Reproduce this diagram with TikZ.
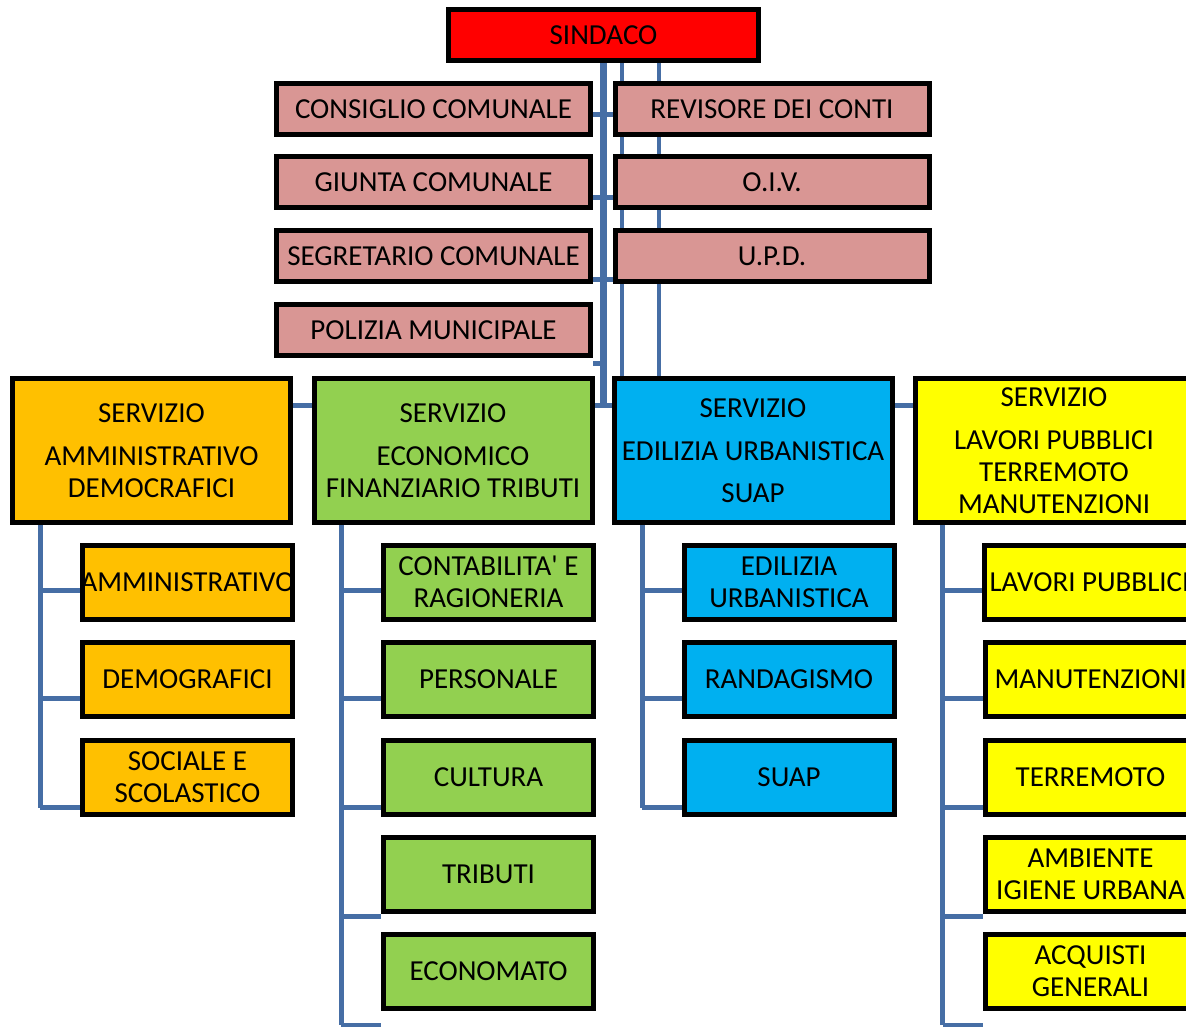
\documentclass[tikz,border=0pt]{standalone}
\usepackage{fontspec}
\setmainfont{Carlito}
\usetikzlibrary{backgrounds}
\definecolor{conn}{RGB}{70,110,165}
\definecolor{redf}{HTML}{FF0000}
\definecolor{pinkf}{HTML}{D99694}
\definecolor{orangef}{HTML}{FFC000}
\definecolor{greenf}{HTML}{92D050}
\definecolor{bluef}{HTML}{00B0F0}
\definecolor{yellowf}{HTML}{FFFF00}
\newcommand{\ctr}[1]{\makebox[0pt]{\raisebox{-1.5pt}[\height][\depth]{\begin{tabular}{@{}c@{}}#1\end{tabular}}}}
\begin{document}
\begin{tikzpicture}[x=0.5pt,y=-0.5pt,
  font=\fontsize{14.5}{16}\selectfont,
  box/.style={draw=black, line width=2.5pt, inner sep=0pt},
  topbox/.style={box, fill=pinkf, minimum width=157pt, minimum height=25.5pt},
  mainbox/.style={box, minimum width=139pt, minimum height=72pt},
  subbox/.style={box, minimum width=105pt, minimum height=37pt},
  link/.style={draw=conn, line width=2.5pt},
  trunk/.style={draw=conn, line width=3.5pt}]
\useasboundingbox (0,0) rectangle (1186,1026);
\clip (0,0) rectangle (1186,1026);

% top level
\node[box, fill=redf, minimum width=155pt, minimum height=25.5pt] (sind) at (603.5,35) {\ctr{SINDACO}};
\node[topbox] (cons) at (433.5,109) {\ctr{CONSIGLIO COMUNALE}};
\node[topbox] (giun) at (433.5,182) {\ctr{GIUNTA COMUNALE}};
\node[topbox] (segr) at (433.5,256) {\ctr{SEGRETARIO COMUNALE}};
\node[topbox] (poli) at (433.5,330) {\ctr{POLIZIA MUNICIPALE}};
\node[topbox] (revi) at (772,109) {\ctr{REVISORE DEI CONTI}};
\node[topbox] (oiv) at (772,182) {\ctr{O.I.V.}};
\node[topbox] (upd) at (772,256) {\ctr{U.P.D.}};

% services
\node[mainbox, fill=orangef] (orng) at (151.5,450.5) {\ctr{SERVIZIO\\[5.5pt] AMMINISTRATIVO\\ DEMOCRAFICI}};
\node[mainbox, fill=greenf] (grn) at (453,450.5) {\ctr{SERVIZIO\\[5.5pt] ECONOMICO\\ FINANZIARIO TRIBUTI}};
\node[mainbox, fill=bluef] (blu) at (753,450.5) {\ctr{SERVIZIO\\[5.5pt] EDILIZIA URBANISTICA\\[5pt] SUAP}};
\node[mainbox, fill=yellowf] (yel) at (1054,450.5) {\ctr{SERVIZIO\\[5.5pt] LAVORI PUBBLICI\\ TERREMOTO\\ MANUTENZIONI}};

% sub offices
\node[subbox, fill=orangef] (o1) at (187.5,582.5) {\ctr{AMMINISTRATIVO}};
\node[subbox, fill=orangef] (o2) at (187.5,679.5) {\ctr{DEMOGRAFICI}};
\node[subbox, fill=orangef] (o3) at (187.5,777) {\ctr{SOCIALE E\\ SCOLASTICO}};

\node[subbox, fill=greenf] (g1) at (488.5,582.5) {\ctr{CONTABILITA\textquotesingle\ E\\ RAGIONERIA}};
\node[subbox, fill=greenf] (g2) at (488.5,679.5) {\ctr{PERSONALE}};
\node[subbox, fill=greenf] (g3) at (488.5,777) {\ctr{CULTURA}};
\node[subbox, fill=greenf] (g4) at (488.5,874) {\ctr{TRIBUTI}};
\node[subbox, fill=greenf] (g5) at (488.5,971.5) {\ctr{ECONOMATO}};

\node[subbox, fill=bluef] (b1) at (789,582.5) {\ctr{EDILIZIA\\ URBANISTICA}};
\node[subbox, fill=bluef] (b2) at (789,679.5) {\ctr{RANDAGISMO}};
\node[subbox, fill=bluef] (b3) at (789,777) {\ctr{SUAP}};

\node[subbox, fill=yellowf] (y1) at (1089.5,582.5) {\ctr{LAVORI PUBBLICI}};
\node[subbox, fill=yellowf] (y2) at (1090.5,679.5) {\ctr{MANUTENZIONI}};
\node[subbox, fill=yellowf] (y3) at (1090.5,777) {\ctr{TERREMOTO}};
\node[subbox, fill=yellowf] (y4) at (1090.5,874) {\ctr{AMBIENTE\\ IGIENE URBANA}};
\node[subbox, fill=yellowf] (y5) at (1090.5,971.5) {\ctr{ACQUISTI\\ GENERALI}};

% connector coordinates
\coordinate (bar) at (603.5,405);
\coordinate (s1) at (603.5,115);
\coordinate (s2) at (603.5,198);
\coordinate (s3) at (603.5,280);
\coordinate (s4) at (603.5,363);
\coordinate (v1) at (622,0);
\coordinate (v2) at (659,0);

\begin{scope}[on background layer]
  \draw[trunk] (sind.south) -- (sind.south |- bar);
  \draw[link] (orng.center |- bar) -- (yel.center |- bar);
  \draw[link] (cons.east |- s1) -- (revi.west |- s1);
  \draw[link] (giun.east |- s2) -- (oiv.west |- s2);
  \draw[link] (segr.east |- s3) -- (upd.west |- s3);
  \draw[link] (poli.east |- s4) -- (s4);
  \draw[link, line width=2.2pt] (sind.south -| v1) -- (blu.north -| v1);
  \draw[link, line width=2.2pt] (sind.south -| v2) -- (blu.north -| v2);
  % columns
  \foreach \col/\xx/\n in {o/40/3, g/341/5, b/642/3, y/942.5/5} {
    \foreach \i in {1,...,\n} {
      \coordinate (\col c\i) at (\xx, 590+108.75*\i-108.75);
      \draw[link] (\col c\i) -- (\col\i.west |- \col c\i);
    }
  }
  \draw[link] (orng.south -| oc1) -- (oc3);
  \draw[link] (grn.south -| gc1) -- (gc5);
  \draw[link] (blu.south -| bc1) -- (bc3);
  \draw[link] (yel.south -| yc1) -- (yc5);
\end{scope}
\end{tikzpicture}
\end{document}
